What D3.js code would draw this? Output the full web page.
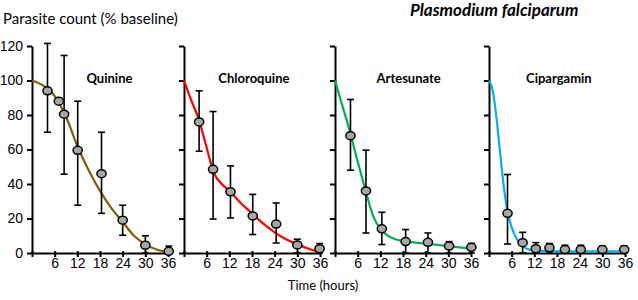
<!DOCTYPE html>
<html>
<head>
<meta charset="utf-8">
<script src="https://cdn.jsdelivr.net/npm/d3@7"></script>
<style>
  body { margin: 0; background: #fff; }
  svg { display: block; font-family: Lato, 'Open Sans', sans-serif; }
  .axis path, .axis line { stroke: #000; stroke-width: 2; }
  .axis text { font-size: 14px; fill: #000; }
</style>
</head>
<body>
<svg width="638" height="300"></svg>
<script>
const drugs = ['Quinine', 'Chloroquine', 'Artesunate', 'Cipargamin'];
const lineColors = ['#7f6000', '#ff0000', '#00b050', '#00b0f0'];
const timeTicks = [0, 6, 12, 18, 24, 30, 36];
const countTicks = [0, 20, 40, 60, 80, 100, 120];

// measured points (hours, mean %, error bar top, error bar bottom)
const pointHours = [
  [4.1, 7.1, 8.5, 12.1, 18.4, 24, 30, 36.2],
  [4, 7.7, 12.3, 18.2, 24.4, 30, 35.9],
  [4.1, 8.2, 12.4, 18.7, 24.6, 30.2, 36.1],
  [4.9, 8.9, 12.4, 16, 20.1, 24.3, 30, 35.8]
];
const pointMeans = [
  [94, 88, 80.5, 59.5, 46, 19, 4.5, 1],
  [76, 48.5, 35.5, 21.5, 16.8, 4.7, 2.5],
  [68, 36, 14, 6.6, 6.2, 4, 3.3],
  [23, 6, 2.5, 3, 2, 2, 2, 2]
];
const errTop = [
  [121.5, null, 114.5, 88, 70, 27.7, 10, 4],
  [94, 82, 50.5, 34, 29, 8, 5.5],
  [89, 59.6, 23.6, 13.6, 11.6, 6.6, 5.5],
  [45.5, 12, 6, 5.5, 4.5, 4.5, 4, 4]
];
const errBottom = [
  [70, null, 45.7, 27.7, 23, 10.3, 0, 0],
  [59, 19.7, 20.3, 10.7, 5.8, 0, 0],
  [48, 11.6, 4.9, 0, 0, 0, 0],
  [5.2, 0, 0, 0, 0, 0, 0, 0]
];

// fitted curves
const curveHours = [
  [0, 3, 6, 9, 12, 15, 18, 21, 24, 27, 30, 33, 36],
  [0, 2, 4, 6, 8, 10, 12, 15, 18, 21, 24, 27, 30, 33, 36],
  [0, 2, 4, 6, 8, 10, 12, 14, 16, 18, 24, 30, 36],
  [0, 1, 2, 3, 4, 5, 6, 7, 8, 10, 12, 18, 36]
];
const curveValues = [
  [100, 97, 91, 79, 62, 48, 36, 26, 18, 10, 5, 2, 0.5],
  [100, 88, 77, 61, 46, 40, 36, 29, 23, 17, 12, 8, 5, 2.5, 0.5],
  [100, 85, 70, 53, 37, 22, 14, 10, 8, 7, 5.5, 4, 2.5],
  [100, 94, 78, 57, 37, 23, 15, 9.5, 6, 2.5, 1.5, 1, 1]
];

const svg = d3.select('svg');
const panelLeft = [32, 184, 335, 489];
const panelWidth = 136;
const labelHour = [20.5, 18.5, 19.5, 18.5]; // where each drug name sits

const yScale = d3.scaleLinear()
  .domain([0, 120])
  .range([253, 46]);

drugs.forEach((drug, i) => {
  const xScale = d3.scaleLinear()
    .domain([0, 36])
    .range([panelLeft[i], panelLeft[i] + panelWidth]);

  const g = svg.append('g');

  const yAxis = d3.axisLeft(yScale)
    .tickValues(countTicks)
    .tickSize(5)
    .tickSizeOuter(0)
    .tickPadding(4)
    .tickFormat(i === 0 ? d3.format('d') : '');

  g.append('g')
    .attr('class', 'axis')
    .attr('transform', `translate(${panelLeft[i]},0)`)
    .call(yAxis);

  const xAxis = d3.axisBottom(xScale)
    .tickValues(timeTicks)
    .tickSize(4)
    .tickSizeOuter(0)
    .tickPadding(1)
    .tickFormat(d => d === 0 ? '' : d);

  const xAxisG = g.append('g')
    .attr('class', 'axis')
    .attr('transform', `translate(0,${yScale(0)})`)
    .call(xAxis);
  xAxisG.selectAll('.tick line').attr('y1', -2);

  // fitted curve
  const curve = curveHours[i].map((h, k) => ({ h, v: curveValues[i][k] }));
  const lineGen = d3.line()
    .x(d => xScale(d.h))
    .y(d => yScale(d.v))
    .curve(d3.curveMonotoneX);

  g.append('path')
    .attr('d', lineGen(curve))
    .attr('fill', 'none')
    .attr('stroke', lineColors[i])
    .attr('stroke-width', 2.2);

  const pts = pointHours[i].map((h, k) => ({
    h, v: pointMeans[i][k], hi: errTop[i][k], lo: errBottom[i][k]
  }));

  // error bars
  const bars = g.selectAll('.err')
    .data(pts.filter(d => d.hi !== null))
    .enter().append('g')
    .attr('class', 'err')
    .attr('stroke', '#000')
    .attr('stroke-width', 1.6);

  bars.append('line')
    .attr('x1', d => xScale(d.h)).attr('x2', d => xScale(d.h))
    .attr('y1', d => yScale(d.hi)).attr('y2', d => yScale(d.lo));
  bars.append('line')
    .attr('x1', d => xScale(d.h) - 3.5).attr('x2', d => xScale(d.h) + 3.5)
    .attr('y1', d => yScale(d.hi)).attr('y2', d => yScale(d.hi));
  bars.append('line')
    .attr('x1', d => xScale(d.h) - 3.5).attr('x2', d => xScale(d.h) + 3.5)
    .attr('y1', d => yScale(d.lo)).attr('y2', d => yScale(d.lo));

  // markers
  g.selectAll('.pt')
    .data(pts)
    .enter().append('ellipse')
    .attr('class', 'pt')
    .attr('cx', d => xScale(d.h))
    .attr('cy', d => yScale(d.v))
    .attr('rx', 4.6)
    .attr('ry', 4)
    .attr('fill', '#a6a6a6')
    .attr('stroke', '#000')
    .attr('stroke-width', 1.5);

  g.append('text')
    .attr('x', xScale(labelHour[i]))
    .attr('y', 83)
    .attr('text-anchor', 'middle')
    .attr('font-size', 13)
    .attr('font-weight', 'bold')
    .text(drug);
});

svg.append('text')
  .attr('x', 3)
  .attr('y', 24)
  .attr('font-size', 15)
  .text('Parasite count (% baseline)');

svg.append('text')
  .attr('x', 410)
  .attr('y', 16)
  .attr('font-size', 17)
  .attr('font-weight', 'bold')
  .attr('font-style', 'italic')
  .text('Plasmodium falciparum');

svg.append('text')
  .attr('x', 323)
  .attr('y', 290)
  .attr('text-anchor', 'middle')
  .attr('font-size', 13)
  .text('Time (hours)');
</script>
</body>
</html>
